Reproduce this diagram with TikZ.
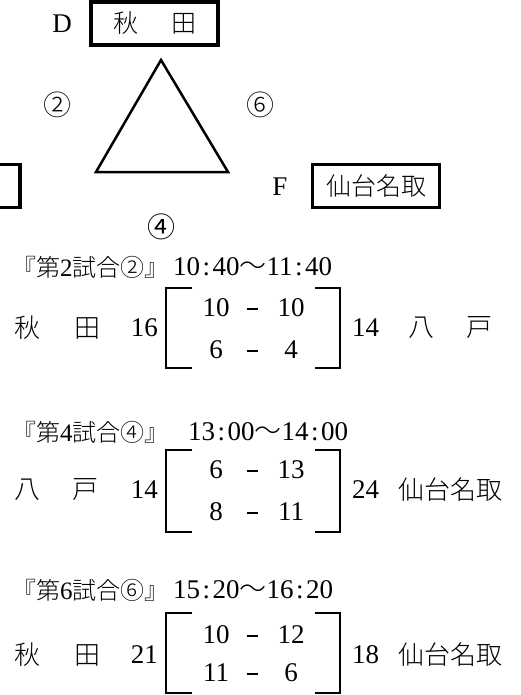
\documentclass[tikz,border=0pt]{standalone}
\usepackage{fontspec}
\setmainfont{Liberation Serif}
\IfFontExistsTF{Noto Sans CJK JP Light}
  {\newfontfamily\cjk{Noto Sans CJK JP Light}}
  {\newfontfamily\cjk{Noto Sans CJK JP}}
\newfontfamily\cjkb{Noto Sans CJK JP}
\newcommand\hdig[1]{{\rmfamily\fontsize{25}{30}\selectfont #1}}
\newcommand\tcol{\kern2.5pt:\kern2.5pt}

\tikzset{
  big/.style={inner sep=0pt, font=\fontsize{27}{32}\selectfont},
  jp/.style={inner sep=0pt, font=\cjk\fontsize{26}{30}\selectfont},
  head/.style={anchor=west, inner sep=0pt, font=\cjk\fontsize{24}{28}\selectfont},
  team/.style={draw, line width=3.5pt, minimum width=127pt, minimum height=43pt, inner sep=0pt, font=\cjk\fontsize{25}{30}\selectfont},
  brk/.style={line width=2.5pt},
  bar/.style={inner sep=0pt},
}

\begin{document}
\begin{tikzpicture}[x=1pt, y=-1pt]

\useasboundingbox (0,0) rectangle (520,695);
\clip (0,0) rectangle (520,695);

\node[big] (D) at (62,24) {D};
\node[team] (akita) at (154.5,23.5) {秋\hspace{33pt}田};

\draw[line width=2.5pt, line join=miter] (161,60) -- (96,172) -- (228,172) -- cycle;

\node[jp, font=\cjk\fontsize{28}{30}\selectfont] (c2) at (57,105) {②};
\node[jp, font=\cjk\fontsize{28}{30}\selectfont] (c6) at (260,105) {⑥};

\node[team, minimum width=130pt] (hachi) at (-45,186) {};

\node[big] (F) at (280,187) {F};
\node[team] (sendai) at (376,186) {仙台名取};

\node[inner sep=0pt, font=\cjkb\fontsize{28}{30}\selectfont] (c4) at (161,227) {④};

% 第2試合
\node[head] (h2) at (12,267) {『第\hdig{2}試合②』};
\node[big, anchor=west] (t2) at (173,267) {10\tcol 40{\cjk ～}11\tcol 40};

\node[jp] (a1) at (27,328) {秋};
\node[jp] (a2) at (87,328) {田};
\node[big, anchor=east] (s2a) at (158,328) {16};
\draw[brk] (192,288) -- (166,288) -- (166,368) -- (192,368);
\draw[brk] (315,288) -- (340,288) -- (340,368) -- (315,368);
\node[big] (p21) at (216,308) {10};
\node[bar] (m21) at (252,309) {\rule{11pt}{2.8pt}};
\node[big] (q21) at (291,308) {10};
\node[big] (p22) at (216,350) {6};
\node[bar] (m22) at (252,351) {\rule{11pt}{2.8pt}};
\node[big] (q22) at (291,350) {4};
\node[big, anchor=west] (s2b) at (352,328) {14};
\node[jp] (b1) at (421,328) {八};
\node[jp] (b2) at (479,328) {戸};

% 第4試合
\node[head] (h4) at (12,432) {『第\hdig{4}試合④』};
\node[big, anchor=west] (t4) at (188,432) {13\tcol 00{\cjk ～}14\tcol 00};

\node[jp] (c1) at (27,490) {八};
\node[jp] (c2b) at (85,490) {戸};
\node[big, anchor=east] (s4a) at (158,490) {14};
\draw[brk] (192,450) -- (166,450) -- (166,532) -- (192,532);
\draw[brk] (315,450) -- (340,450) -- (340,532) -- (315,532);
\node[big] (p41) at (216,470) {6};
\node[bar] (m41) at (252,471) {\rule{11pt}{2.8pt}};
\node[big] (q41) at (291,470) {13};
\node[big] (p42) at (216,512) {8};
\node[bar] (m42) at (252,513) {\rule{11pt}{2.8pt}};
\node[big] (q42) at (291,512) {11};
\node[big, anchor=west] (s4b) at (352,490) {24};
\node[jp] (d1) at (450,490) {仙台名取};

% 第6試合
\node[head] (h6) at (12,590) {『第\hdig{6}試合⑥』};
\node[big, anchor=west] (t6) at (173,590) {15\tcol 20{\cjk ～}16\tcol 20};

\node[jp] (e1) at (27,655) {秋};
\node[jp] (e2) at (87,655) {田};
\node[big, anchor=east] (s6a) at (158,655) {21};
\draw[brk] (192,613) -- (166,613) -- (166,693) -- (192,693);
\draw[brk] (315,613) -- (340,613) -- (340,693) -- (315,693);
\node[big] (p61) at (216,635) {10};
\node[bar] (m61) at (252,636) {\rule{11pt}{2.8pt}};
\node[big] (q61) at (291,635) {12};
\node[big] (p62) at (216,673) {11};
\node[bar] (m62) at (252,674) {\rule{11pt}{2.8pt}};
\node[big] (q62) at (291,673) {6};
\node[big, anchor=west] (s6b) at (352,655) {18};
\node[jp] (f1) at (450,655) {仙台名取};

\end{tikzpicture}
\end{document}
